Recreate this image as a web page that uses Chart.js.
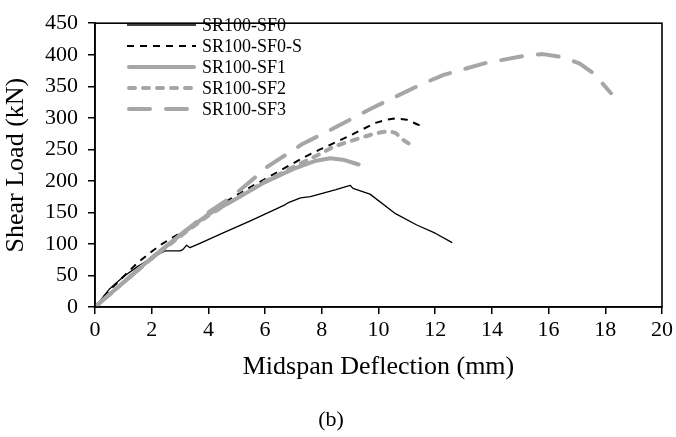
<!DOCTYPE html>
<html>
<head>
<meta charset="utf-8">
<script src="https://cdn.jsdelivr.net/npm/chart.js@4/dist/chart.umd.min.js"></script>
<style>
  html, body { margin: 0; padding: 0; background: #fff; }
  #wrap { width: 676px; height: 437px; }
</style>
</head>
<body>
<div id="wrap"><canvas id="c" width="676" height="437"></canvas></div>
<script>
// Midspan deflection (mm) and shear load (kN) for each specimen
const deflSF0  = [0, 0.5, 1.0, 1.5, 2.0, 2.47, 3.0, 3.1, 3.23, 3.35, 3.7, 4.5, 5.5, 6.7, 6.8, 7.25, 7.6, 8.5, 9.0, 9.1, 9.7, 10.6, 11.35, 12.0, 12.6];
const loadSF0  = [0, 28, 48, 64, 78, 89, 89, 91, 98, 94, 101, 117, 137, 162, 165, 173, 175, 186, 193, 188, 179, 148, 130, 117, 102];

const deflSF0S = [0, 0.5, 1.0, 1.5, 2.0, 2.4, 3.0, 3.4, 4.35, 5.4, 6.6, 7.4, 7.9, 9.0, 9.9, 10.3, 10.6, 11.0, 11.4, 11.55, 11.6];
const loadSF0S = [0, 26, 48, 70, 88, 101, 117, 128, 160, 188, 218, 238, 249, 272, 292, 297, 299, 297, 289, 288, 284];

const deflSF1  = [0, 1, 2, 3, 4, 5, 6, 7, 7.8, 8.3, 8.8, 9.3];
const loadSF1  = [0, 39, 78, 114, 147, 172, 198, 219, 232, 236, 233, 226];

const deflSF2  = [0, 1, 2, 3, 4, 5, 6, 7, 8, 8.4, 9.0, 9.8, 10.1, 10.35, 10.6, 10.9, 11.25];
const loadSF2  = [0, 39, 77, 112, 145, 173, 199, 222, 244, 254, 263, 274, 277, 279, 276, 264, 254];

const deflSF3  = [0, 1, 2, 3, 4, 4.9, 6.1, 7.3, 8.4, 9.8, 11.5, 12.3, 13.7, 15.1, 15.8, 16.5, 17.1, 17.6, 18.2];
const loadSF3  = [0, 39, 77, 114, 150, 177, 223, 258, 283, 316, 353, 368, 386, 398, 401, 396, 386, 370, 339];

const seriesNames = ['SR100-SF0', 'SR100-SF0-S', 'SR100-SF1', 'SR100-SF2', 'SR100-SF3'];

const xTitle = 'Midspan Deflection (mm)';
const yTitle = 'Shear Load (kN)';
const caption = '(b)';

const GREY = '#a6a6a6';
const SERIF = '"Liberation Serif", "Times New Roman", serif';

function pts(xs, ys) { return xs.map((x, i) => ({ x: x, y: ys[i] })); }

const styles = [
  { borderColor: '#000', borderWidth: 1.3, borderDash: [], borderCapStyle: 'butt' },
  { borderColor: '#000', borderWidth: 2, borderDash: [7, 6], borderCapStyle: 'butt' },
  { borderColor: GREY, borderWidth: 4, borderDash: [], borderCapStyle: 'round' },
  { borderColor: GREY, borderWidth: 4, borderDash: [6, 8], borderCapStyle: 'round' },
  { borderColor: GREY, borderWidth: 4, borderDash: [21, 16], borderCapStyle: 'round' }
];

const seriesData = [
  pts(deflSF0, loadSF0),
  pts(deflSF0S, loadSF0S),
  pts(deflSF1, loadSF1),
  pts(deflSF2, loadSF2),
  pts(deflSF3, loadSF3)
];

// draw order: grey curves under the black ones
const drawOrder = [4, 3, 2, 1, 0];

const datasets = seriesNames.map((name, i) => Object.assign({
  label: name,
  data: seriesData[i],
  showLine: true,
  fill: false,
  tension: 0,
  pointRadius: 0,
  pointHoverRadius: 0,
  borderJoinStyle: 'round',
  order: drawOrder[i]
}, styles[i]));

// frame around the plot area plus the in-plot legend
const framePlugin = {
  id: 'frameAndLegend',
  afterDatasetsDraw(chart) {
    const { ctx, chartArea: a } = chart;
    ctx.save();
    ctx.strokeStyle = '#000';
    ctx.lineWidth = 1.6;
    ctx.setLineDash([]);
    ctx.strokeRect(a.left, a.top, a.right - a.left, a.bottom - a.top);

    // legend
    const x0 = 127, x1 = 196, tx = 202;
    const rowY = [25, 46, 67, 88, 109];
    ctx.font = '18px ' + SERIF;
    ctx.textBaseline = 'middle';
    ctx.textAlign = 'left';
    chart.data.datasets.forEach((ds, i) => {
      const y = rowY[i];
      ctx.beginPath();
      ctx.strokeStyle = ds.borderColor;
      ctx.lineWidth = ds.borderWidth;
      ctx.lineCap = ds.borderCapStyle;
      ctx.setLineDash(ds.borderDash || []);
      ctx.moveTo(x0 + (ds.borderCapStyle === 'round' ? 2 : 0), y);
      ctx.lineTo(x1 - (ds.borderCapStyle === 'round' ? 2 : 0), y);
      ctx.stroke();
      ctx.setLineDash([]);
      ctx.fillStyle = '#000';
      ctx.fillText(ds.label, tx, y + 1);
    });
    ctx.restore();
  }
};

new Chart(document.getElementById('c'), {
  type: 'scatter',
  data: { datasets: datasets },
  options: {
    responsive: false,
    animation: false,
    events: [],
    layout: { padding: { top: 11, right: 14, left: 0, bottom: 0 } },
    plugins: {
      legend: { display: false },
      tooltip: { enabled: false },
      title: {
        display: true,
        text: caption,
        position: 'bottom',
        color: '#000',
        font: { family: SERIF, size: 22, weight: 'normal', lineHeight: 1.2 },
        padding: { top: 0, bottom: 4 }
      }
    },
    scales: {
      x: {
        type: 'linear',
        min: 0, max: 20,
        ticks: { stepSize: 2, color: '#000', padding: 3, maxRotation: 0,
                 font: { family: SERIF, size: 22 } },
        grid: { display: true, drawOnChartArea: false, drawTicks: true, tickLength: 7,
                color: '#000', tickColor: '#000', lineWidth: 1.5 },
        border: { display: true, color: '#000', width: 1.6 },
        title: { display: true, text: xTitle, color: '#000',
                 font: { family: SERIF, size: 26, lineHeight: 1.2 },
                 padding: { top: 0, bottom: 24 } },
        afterFit(scale) { scale.height = 99.6; }
      },
      y: {
        type: 'linear',
        min: 0, max: 450,
        ticks: { stepSize: 50, color: '#000', padding: 10,
                 font: { family: SERIF, size: 22 } },
        grid: { display: true, drawOnChartArea: false, drawTicks: true, tickLength: 7,
                color: '#000', tickColor: '#000', lineWidth: 1.5 },
        border: { display: true, color: '#000', width: 1.6 },
        title: { display: true, text: yTitle, color: '#000',
                 font: { family: SERIF, size: 26, lineHeight: 1.2 },
                 padding: { top: 1, bottom: 0 } },
        afterFit(scale) { scale.width = 95; }
      }
    }
  },
  plugins: [framePlugin]
});
</script>
</body>
</html>
